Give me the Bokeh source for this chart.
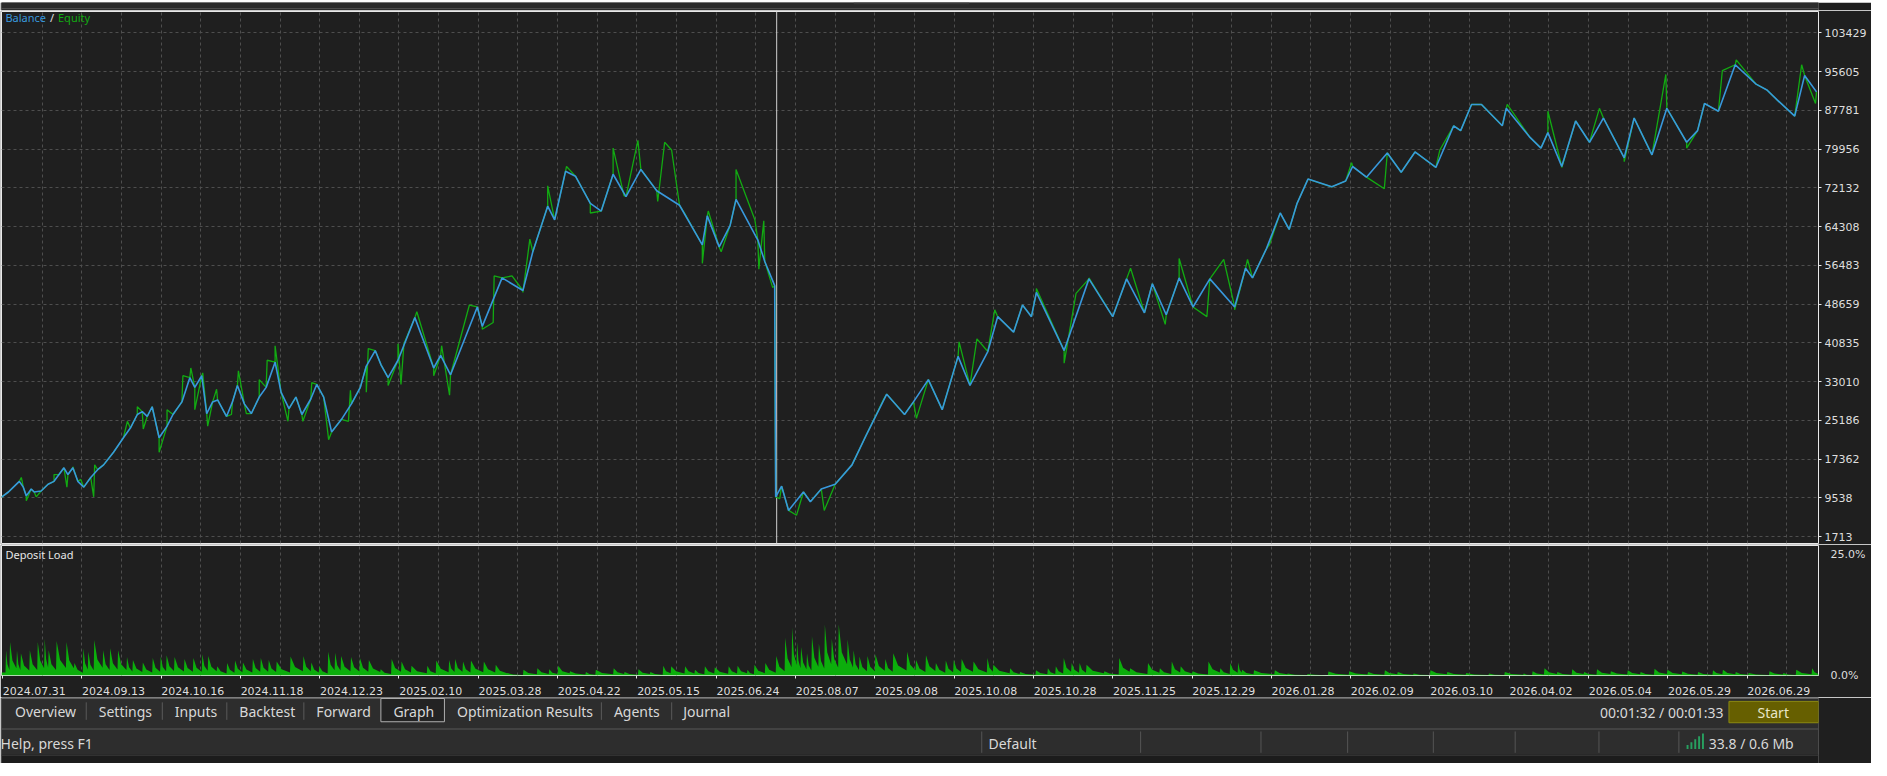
from bokeh.plotting import figure
from bokeh.models import Range1d, FixedTicker, Label
from bokeh.layouts import column
from bokeh.embed import file_html
from bokeh.resources import INLINE
from bokeh.core.properties import value

# ---------------- data (deal index on x) ----------------
balance_x = [0, 7, 12, 18, 22, 25, 30, 33, 40, 47,
             53, 58, 63, 67, 72, 77, 83, 90, 97, 103,
             113, 123, 130, 137, 142, 147, 152, 159, 167, 173,
             182, 190, 195, 202, 207, 213, 218, 227, 233, 238,
             245, 252, 260, 267, 276, 282, 290, 297, 303, 312,
             318, 325, 333, 343, 353, 362, 368, 377, 383, 390,
             400, 417, 436, 443, 453, 480, 485, 505,
             526, 536, 551, 558, 569, 579, 594, 605, 617, 630,
             645, 661, 684, 707, 712, 724, 735, 741, 763, 770,
             780, 781, 787, 794, 809, 816, 827, 841, 858, 872,
             893, 911, 920, 935, 949, 965, 977, 995, 1005, 1021,
             1030, 1039, 1044, 1072, 1097, 1121, 1135, 1153, 1161, 1175,
             1188, 1202, 1219, 1244, 1255, 1262, 1276, 1290, 1299, 1307,
             1318, 1342, 1356, 1363, 1377, 1398, 1412, 1426, 1447, 1465,
             1472, 1483, 1493, 1514, 1518, 1542, 1553, 1560, 1574, 1588,
             1602, 1616, 1637, 1647, 1665, 1680, 1700, 1711, 1718, 1732,
             1749, 1770, 1781, 1791, 1809, 1819, 1831]
balance_v = [9674, 10711, 11689, 12863, 11689, 9929, 11298, 10711, 10907, 12276,
             12863, 14232, 15601, 14232, 15601, 12863, 11689, 13645, 15210, 16188,
             18731, 21665, 23621, 26360, 26947, 25968, 27924, 21665, 24012, 26360,
             28903, 33793, 31837, 34184, 26555, 28903, 29294, 25968, 28903, 32228,
             28511, 26555, 29881, 31837, 36923, 30859, 27533, 29881, 26360, 29490,
             32424, 29881, 22839, 25382, 28511, 31837, 36140, 39270, 36336, 33793,
             37314, 45920, 35749, 38292, 34380, 48072, 44160, 53940,
             51397, 59222, 68415, 65677, 75457, 74479, 69002, 67437, 74870, 70371,
             75848, 71545, 68611, 60591, 66459, 60200, 64503, 69785, 61569, 57266,
             52375, 9733, 11885, 6994, 10711, 8755, 11298, 12276, 16188, 22056,
             30467, 26360, 28903, 33401, 27338, 38096, 32228, 39074, 46116, 42986,
             48463, 46116, 51006, 39270, 53745, 46116, 53745, 46898, 52767, 46507,
             53940, 48072, 53745, 48072, 55896, 53940, 59809, 67046, 63721, 69002,
             73892, 72327, 73501, 76435, 74283, 79174, 75262, 79369, 76240, 84651,
             83673, 88954, 88954, 84651, 88172, 82303, 80152, 83282, 76435, 85629,
             81325, 86216, 78196, 86216, 78783, 88172, 81325, 83673, 89150, 87585,
             96974, 93062, 91888, 89932, 86607, 94822, 91497]

# equity excursions away from balance
equity_x = [20, 25, 35, 53, 66, 72, 80, 93, 94, 127,
            137, 143, 159, 167, 183, 191, 195, 203, 208, 217,
            232, 239, 247, 260, 268, 276, 289, 304, 313, 330,
            350, 352, 368, 370, 390, 400,
            403, 406, 419, 436, 444, 452,
            472, 485, 496, 497, 515, 526, 533, 551, 570, 594,
            617, 628, 642, 662, 669, 676, 689, 707, 713, 726,
            741, 760, 764, 769, 778, 785, 802, 830, 872, 890,
            923, 966, 984, 1002, 1020, 1044, 1072, 1084, 1097, 1139,
            1174, 1188, 1216, 1233, 1244, 1257, 1279, 1362, 1395, 1451,
            1519, 1560, 1574, 1612, 1637, 1679, 1700, 1736, 1750, 1816,
            1830]
equity_v = [13645, 8950, 9733, 14232, 11689, 15797, 13254, 9733, 16188, 24990,
            27924, 23426, 18731, 27338, 34184, 35749, 27338, 34771, 24012, 31445,
            26360, 35162, 26555, 33401, 37314, 40248, 24990, 24990, 32815, 21274,
            24990, 31250, 30859, 39661, 32228, 40639,
            32423, 40639, 47094, 34184, 40248, 30272,
            48463, 43573, 44942, 54332, 54332, 51006, 61765, 72523, 76435, 67046,
            80152, 70567, 81717, 69393, 81325, 79761, 67046, 56874, 67437, 59222,
            75848, 65677, 55701, 65481, 51984, 9342, 6016, 6994, 22056, 29489,
            25577, 41030, 41617, 47485, 43182, 51789, 36727, 50811, 53940, 55896,
            44551, 57853, 46116, 57657, 47485, 57657, 60591, 77218, 71936, 79761,
            88954, 87585, 76240, 88172, 77413, 95018, 80152, 95800, 97952, 96974,
            89150]

# deposit load peaks (%)
load_x = [4, 8, 15, 19, 28, 36, 43, 47, 55, 65,
          73, 82, 87, 93, 102, 109, 117, 126, 132, 142,
          152, 160, 166, 174, 184, 193, 202, 208, 217, 227,
          235, 243, 253, 261, 269, 277, 291, 304, 312, 320,
          329, 336, 342, 352, 361, 370, 382, 393, 403, 413,
          429, 438, 451, 457, 465, 473, 486, 498, 510, 526,
          540, 552, 561, 573, 589, 599, 617, 628, 642, 654,
          667, 675, 689, 699, 709, 719, 733, 742, 752, 759,
          770, 781, 790, 797, 802, 806, 812, 817, 824, 830,
          837, 844, 853, 859, 865, 873, 881, 891, 899, 913,
          922, 932, 942, 952, 960, 968, 980, 994, 1000, 1017,
          1027, 1043, 1055, 1063, 1071, 1079, 1087, 1094, 1112, 1127,
          1138, 1156, 1168, 1180, 1189, 1201, 1217, 1229, 1239, 1247,
          1251, 1263, 1284, 1297, 1317, 1338, 1359, 1378, 1395, 1408,
          1424, 1441, 1458, 1477, 1500, 1516, 1535, 1544, 1556, 1569,
          1584, 1596, 1609, 1623, 1640, 1653, 1667, 1680, 1695, 1711,
          1726, 1736, 1749, 1762, 1783, 1797, 1810, 1826]
load_v = [5.2, 6.9, 5.2, 4.6, 5.2, 6.9, 7.6, 5.2, 7.1, 6.9,
          2.6, 5.6, 4.9, 7.3, 5.2, 5.6, 5.2, 3.8, 3.2, 2.7,
          3.6, 3.9, 4.2, 3.8, 3.4, 3.6, 4.4, 4.0, 1.9, 2.6,
          3.1, 2.7, 3.4, 3.6, 3.2, 2.9, 3.9, 4.0, 2.7, 1.9,
          4.9, 4.7, 4.0, 3.8, 3.6, 3.2, 1.3, 3.4, 2.9, 2.0,
          2.0, 3.1, 3.2, 3.4, 2.9, 3.1, 2.9, 2.2, 0.5, 1.2,
          1.5, 1.3, 2.0, 0.9, 0.7, 1.2, 1.5, 0.7, 1.3, 0.7,
          2.0, 1.9, 1.9, 1.2, 1.9, 1.7, 1.9, 2.0, 1.2, 2.2,
          2.6, 4.0, 7.8, 9.9, 6.9, 5.9, 4.6, 8.1, 6.6, 10.5,
          7.6, 10.5, 7.4, 5.2, 3.9, 4.0, 4.4, 3.4, 4.6, 4.9,
          3.2, 4.2, 2.6, 3.1, 3.2, 3.4, 2.9, 3.6, 2.2, 1.5,
          0.7, 1.1, 1.5, 1.9, 3.6, 2.6, 2.6, 2.2, 0.9, 3.6,
          1.5, 2.6, 1.5, 2.9, 1.9, 0.9, 2.9, 1.5, 2.6, 2.7,
          1.2, 1.1, 1.1, 0.4, 0.3, 0.8, 0.9, 0.7, 1.1, 0.7,
          0.4, 1.1, 0.7, 0.5, 0.4, 0.7, 0.4, 0.9, 1.5, 0.7,
          1.3, 0.7, 1.3, 0.9, 1.1, 0.7, 1.4, 1.2, 0.8, 0.7,
          1.1, 1.2, 0.7, 0.5, 0.9, 0.5, 1.2, 1.5]

date_labels = ["2024.07.31", "2024.09.13", "2024.10.16", "2024.11.18", "2024.12.23",
               "2025.02.10", "2025.03.28", "2025.04.22", "2025.05.15", "2025.06.24",
               "2025.08.07", "2025.09.08", "2025.10.08", "2025.10.28", "2025.11.25",
               "2025.12.29", "2026.01.28", "2026.02.09", "2026.03.10", "2026.04.02",
               "2026.05.04", "2026.05.29", "2026.06.29"]
y_tick_labels = ["1713", "9538", "17362", "25186", "33010", "40835", "48659",
                 "56483", "64308", "72132", "79956", "87781", "95605", "103429"]
load_tick_labels = ["0.0%", "25.0%"]
load_tick_values = [0, 25]
forward_start = 781
deals_total = 1833
balance_top = 107730
balance_bottom = 313

# ---------------- styling ----------------
BG = "#1f1f1f"
GRID = "#4e4e4e"
TXT = "#dedede"
BLUE = "#3898dc"
GREEN = "#12aa12"
LOADC = "#0cae0c"
FRAME = "#e8e8e8"
FW = 1817
NUMFONT = "DejaVu Sans"
UIFONT = "Noto Sans"

xr = Range1d(0, deals_total)
date_ticks = [1 + 80 * k for k in range(len(date_labels))]
date_label_pos = [t + 32 for t in date_ticks]
grid_x = [1 + 40 * k for k in range(1, 46)]
y_ticks = [float(s) for s in y_tick_labels]


def ui_fig(h, xrng, yrng):
    f = figure(width=1871, height=h, x_range=xrng, y_range=yrng,
               x_axis_location=None, y_axis_location=None, min_border=0,
               outline_line_color=None, toolbar_location=None, output_backend="svg",
               background_fill_color=BG, border_fill_color=BG)
    f.xgrid.visible = False
    f.ygrid.visible = False
    return f


# ---------------- top strip ----------------
top = ui_fig(10, Range1d(0, 1887), Range1d(12, 0))
top.quad(left=[0, 885], right=[1887, 1005], top=[0, 0], bottom=[7, 2],
         fill_color=["#2c2c2c", "#3a3a3a"], line_color=None)
top.segment(x0=[0], y0=[7.5], x1=[1887], y1=[7.5], line_color="#5c5c5c", line_width=1)

# ---------------- main balance / equity panel ----------------
p = figure(frame_width=FW, frame_height=532, x_range=xr, y_range=Range1d(balance_bottom, balance_top),
           x_axis_location=None, y_axis_location="right",
           min_border_left=1, min_border_right=53, min_border_top=1, min_border_bottom=1,
           toolbar_location=None, output_backend="svg",
           background_fill_color=BG, border_fill_color=BG,
           outline_line_color=FRAME, outline_line_width=1)
ya = p.yaxis[0]
ya.ticker = FixedTicker(ticks=y_ticks)
ya.major_label_overrides = dict(zip(y_ticks, y_tick_labels))
ya.axis_line_color = None
ya.major_tick_out = 3
ya.major_tick_in = 0
ya.major_tick_line_color = FRAME
ya.minor_tick_line_color = None
ya.major_label_standoff = 3
ya.major_label_text_color = TXT
ya.major_label_text_font = NUMFONT
ya.major_label_text_font_size = "11px"
p.ygrid.ticker = FixedTicker(ticks=y_ticks)
p.ygrid.grid_line_color = GRID
p.ygrid.grid_line_dash = "3 3"
p.xgrid.ticker = FixedTicker(ticks=grid_x)
p.xgrid.grid_line_color = GRID
p.xgrid.grid_line_dash = "3 3"

# forward-test start marker
p.segment(x0=[forward_start + 1], y0=[balance_bottom], x1=[forward_start + 1], y1=[balance_top],
          line_color="#d0d0d0", line_width=1)

eq_pairs = sorted(zip(balance_x + equity_x, balance_v + equity_v), key=lambda t: t[0])
eq_x = [a for a, b in eq_pairs]
eq_v = [b for a, b in eq_pairs]
p.line(eq_x, eq_v, line_color=GREEN, line_width=1.3)
p.line(balance_x, balance_v, line_color=BLUE, line_width=1.6)

label_y = float(y_tick_labels[-1]) + 3130
for tx, tt, tc in [(4, "Balance", BLUE), (49, "/", "#e0e0e0"), (57, "Equity", GREEN)]:
    p.add_layout(Label(x=tx, y=label_y, text=tt, text_color=tc, text_font=UIFONT,
                       text_font_size="11px", text_baseline="middle", text_align="left"))

# ---------------- deposit load panel ----------------
q = figure(frame_width=FW, frame_height=130, x_range=xr, y_range=Range1d(0, 26.8),
           x_axis_location="below", y_axis_location="right",
           min_border_left=1, min_border_right=53, min_border_top=1, min_border_bottom=19,
           toolbar_location=None, output_backend="svg",
           background_fill_color=BG, border_fill_color=BG,
           outline_line_color=FRAME, outline_line_width=1)
q.ygrid.visible = False
q.xgrid.ticker = FixedTicker(ticks=grid_x)
q.xgrid.grid_line_color = GRID
q.xgrid.grid_line_dash = "3 3"

sx, sy = [0], [0.6]
for i, (lx, lh) in enumerate(zip(load_x, load_v)):
    nxt = load_x[i + 1] if i + 1 < len(load_x) else deals_total
    gap = nxt - lx
    sx += [lx, lx + 0.6, lx + 0.6 + gap * 0.35, nxt]
    sy += [sy[-1], lh, lh * 0.45, lh * 0.22]
q.varea(x=sx, y1=0, y2=sy, fill_color=LOADC)

qa = q.yaxis[0]
qa.ticker = FixedTicker(ticks=load_tick_values)
qa.major_label_overrides = dict(zip(load_tick_values, load_tick_labels))
qa.axis_line_color = None
qa.major_tick_line_color = None
qa.minor_tick_line_color = None
qa.major_label_standoff = 6
qa.major_label_text_color = TXT
qa.major_label_text_font = NUMFONT
qa.major_label_text_font_size = "11px"

xa = q.xaxis[0]
xa.ticker = FixedTicker(ticks=date_label_pos, minor_ticks=date_ticks)
xa.major_label_overrides = dict(zip(date_label_pos, date_labels))
xa.axis_line_color = None
xa.major_tick_line_color = None
xa.minor_tick_out = 3
xa.minor_tick_in = 0
xa.minor_tick_line_color = FRAME
xa.major_label_standoff = 5
xa.major_label_text_color = TXT
xa.major_label_text_font = NUMFONT
xa.major_label_text_font_size = "11px"

q.add_layout(Label(x=4, y=24.9, text="Deposit Load", text_color="#e6e6e6", text_font=UIFONT,
                   text_font_size="11px", text_baseline="middle", text_align="left"))

# ---------------- tab bar + status bar ----------------
u = ui_fig(66, Range1d(0, 1887), Range1d(776, 708))
u.quad(left=[0, 0, 0], right=[1887, 1887, 1887], top=[708, 741, 767], bottom=[741, 767, 776],
       fill_color=["#2d2d2d", "#2d2d2d", "#1c1c1c"], line_color=None)
u.segment(x0=[0, 0, 0], y0=[708.5, 740.5, 767.5], x1=[1887, 1887, 1887], y1=[708.5, 740.5, 767.5],
          line_color=["#9a9a9a", "#5a5a5a", "#3a3a3a"], line_width=1)
# selected tab
u.quad(left=[394], right=[460], top=[709], bottom=[733], fill_color="#232323",
       line_color="#b0b0b0", line_width=1)
sep_x = [88, 167, 234, 314, 623, 696]
u.segment(x0=sep_x, y0=[713] * len(sep_x), x1=sep_x, y1=[731] * len(sep_x),
          line_color="#5a5a5a", line_width=1)
tab_names = ["Overview", "Settings", "Inputs", "Backtest", "Forward", "Graph",
             "Optimization Results", "Agents", "Journal"]
tab_pos = [14, 101, 180, 247, 327, 407, 473, 636, 708]
u.text(x=tab_pos, y=[722] * len(tab_pos), text=tab_names, text_font=value(UIFONT),
       text_font_size="14px", text_color="#d8d8d8", text_baseline="middle", text_align="left")
u.text(x=[1660], y=[723], text=["00:01:32 / 00:01:33"], text_font=value(UIFONT),
       text_font_size="14px", text_color="#d8d8d8", text_baseline="middle", text_align="left")
u.quad(left=[1794], right=[1887], top=[712], bottom=[734], fill_color="#665f00",
       line_color="#8c8a10", line_width=1)
u.text(x=[1840], y=[723], text=["Start"], text_font=value(UIFONT), text_font_size="14px",
       text_color="#e8e6c8", text_baseline="middle", text_align="center")
# status bar
st_sep = [1018, 1183, 1308, 1398, 1487, 1572, 1659, 1742]
u.segment(x0=st_sep, y0=[743] * len(st_sep), x1=st_sep, y1=[765] * len(st_sep),
          line_color="#555555", line_width=1)
u.text(x=[-1, 1025, 1773], y=[755, 755, 755], text=["Help, press F1", "Default", "33.8 / 0.6 Mb"],
       text_font=value(UIFONT), text_font_size="14px", text_color="#d8d8d8",
       text_baseline="middle", text_align="left")
u.quad(left=[1750, 1754, 1758, 1762, 1766], right=[1752, 1756, 1760, 1764, 1768],
       top=[757, 754, 751, 748, 745], bottom=[761, 761, 761, 761, 761],
       fill_color="#27a060", line_color=None)

layout = column(top, p, q, u, spacing=0)
open("out.html", "w").write(file_html(layout, INLINE))
